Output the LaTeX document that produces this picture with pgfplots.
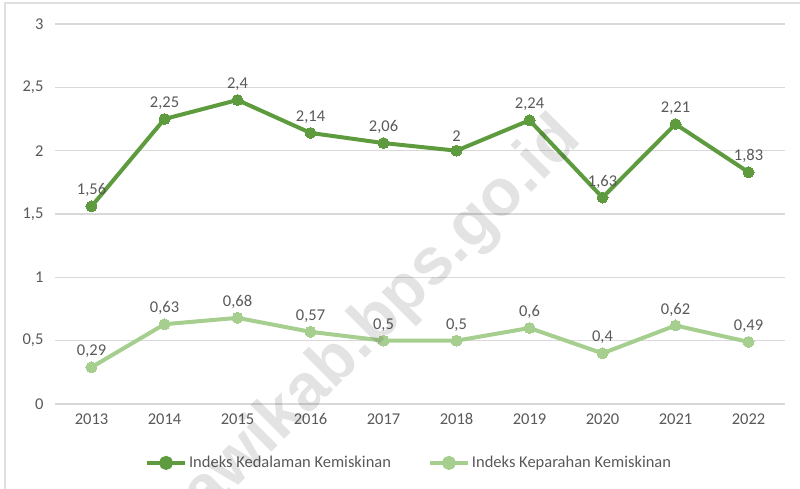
\documentclass[border=0pt]{standalone}
\usepackage{fontspec}
\setmainfont{Carlito}
\newfontfamily\wmfont{Liberation Sans}
\usepackage{pgfplots}
\pgfplotsset{compat=1.18}
\definecolor{dkgreen}{HTML}{5E9B3E}
\definecolor{ltgreen}{HTML}{A6CE8F}
\definecolor{txtgray}{HTML}{595959}
\definecolor{gridgray}{HTML}{D9D9D9}
\begin{document}
\begin{tikzpicture}[x=1pt,y=1pt]
\path[use as bounding box] (-55,-84) rectangle (745,404);
\begin{axis}[
  at={(0,0)}, anchor=south west,
  scale only axis, width=730pt, height=380pt,
  xmin=-0.5, xmax=9.5, ymin=0, ymax=3,
  xtick={0,...,9},
  xticklabels={2013,2014,2015,2016,2017,2018,2019,2020,2021,2022},
  ytick={0,0.5,1,1.5,2,2.5,3},
  yticklabels={0,{0,5},1,{1,5},2,{2,5},3},
  /pgf/number format/assume math mode=true,
  ymajorgrids, grid style={gridgray, line width=1.3pt},
  axis line style={draw=none},
  major tick length=0pt,
  tick style={draw=none},
  tick label style={font=\fontsize{16.5}{19}\selectfont, text=txtgray},
  xticklabel style={yshift=-6pt},
  yticklabel style={xshift=-8pt, anchor=east},
  clip=false,
  nodes near coords,
  nodes near coords style={font=\fontsize{16.5}{19}\selectfont, text=txtgray, anchor=south, yshift=6pt,
    /pgf/number format/.cd, precision=2, use comma},
  legend columns=2,
  legend style={at={(0.485,-0.155)}, anchor=center, draw=none, fill=none,
    font=\fontsize{16.5}{19}\selectfont, text=txtgray,
    /tikz/every even column/.append style={column sep=35pt}},
  legend cell align=left,
  legend image code/.code={
    \draw[#1, mark=none, line width=4pt] (0pt,0pt) -- (38pt,0pt);
    \fill[#1] (19pt,0pt) circle (5pt);
  },
]
\addplot[dkgreen, line width=4pt, mark=*, mark size=5.5pt, mark options={fill=dkgreen, draw=dkgreen, line width=0pt}]
  coordinates {(0,1.56) (1,2.25) (2,2.4) (3,2.14) (4,2.06) (5,2) (6,2.24) (7,1.63) (8,2.21) (9,1.83)};
\addlegendentry{Indeks Kedalaman Kemiskinan}
\addplot[ltgreen, line width=4pt, mark=*, mark size=5.5pt, mark options={fill=ltgreen, draw=ltgreen, line width=0pt}]
  coordinates {(0,0.29) (1,0.63) (2,0.68) (3,0.57) (4,0.5) (5,0.5) (6,0.6) (7,0.4) (8,0.62) (9,0.49)};
\addlegendentry{Indeks Keparahan Kemiskinan}
\end{axis}
\draw[gray!25, line width=1.5pt] (-50,-90) -- (-50,401) -- (750,401);
\node[rotate=45, anchor=base east, text=black, opacity=0.11, font=\wmfont\bfseries\fontsize{66}{66}\selectfont] at (530,265) {awikab.bps.go.id};
\end{tikzpicture}
\end{document}
